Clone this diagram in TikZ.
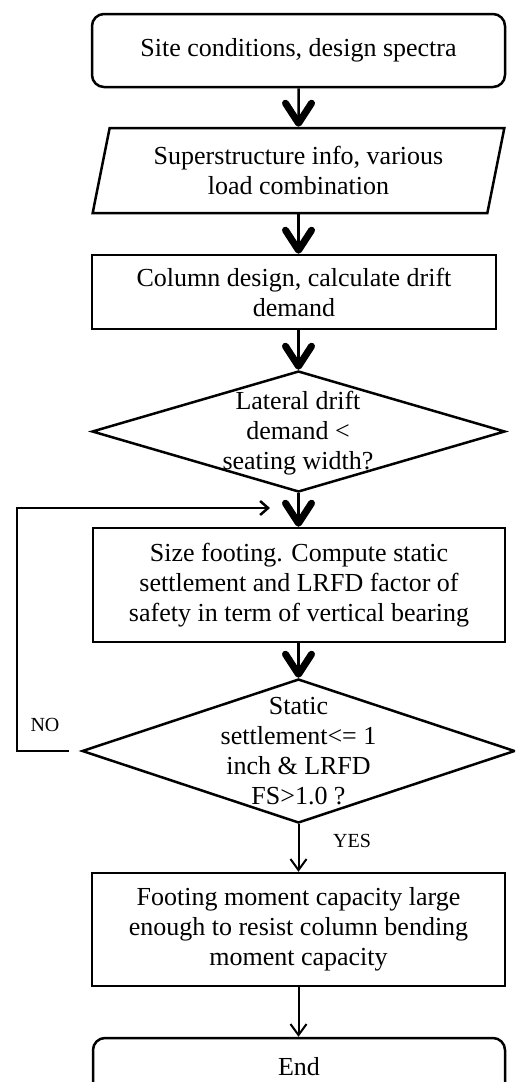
\documentclass[tikz,border=0pt]{standalone}
\usepackage{fontspec}
\setmainfont{Liberation Serif}
\usetikzlibrary{shapes.geometric,arrows.meta}
\begin{document}
\begin{tikzpicture}[x=1pt, y=1pt]
    % Define styles
    \tikzset{
        boxtext/.style={font=\fontsize{26}{30}\selectfont, align=center},
        process/.style={draw, line width=2.5pt, rectangle, inner sep=0pt, boxtext},
        terminal/.style={process, rounded corners=12pt},
        inputbox/.style={draw, line width=2.5pt, trapezium, trapezium left angle=75, trapezium right angle=105, trapezium stretches=true, inner sep=0pt, boxtext},
        decision/.style={draw, line width=2.5pt, diamond, inner sep=0pt},
        bigarrow/.style={line width=2.5pt, -{Straight Barb[length=20pt, width=26pt, line width=7pt, round]}},
        thinarrow/.style={line width=2pt, -{Straight Barb[length=11pt, width=16pt]}},
        looparrow/.style={line width=2.5pt, -{Straight Barb[length=8pt, width=14pt]}},
        answer/.style={font=\fontsize{20}{24}\selectfont}
    }
    \clip (0,0) rectangle (515,-1082);

    % Boxes
    \node[terminal, minimum width=413pt, minimum height=73pt] (site) at (298.5,-50.5) {Site conditions, design spectra};
    \node[inputbox, minimum width=413pt, minimum height=85pt] (info) at (298.5,-170.5) {Superstructure info, various\\load combination};
    \node[process, minimum width=404pt, minimum height=74pt] (column) at (294,-292) {Column design, calculate drift\\demand};
    \node[decision, minimum width=413pt, minimum height=121pt] (lateral) at (298.5,-431.5) {};
    \node[boxtext] (lateraltext) at (298,-433) {Lateral drift\\demand <\\seating width?};
    \node[process, minimum width=412pt, minimum height=114pt] (size) at (299,-585) {Size footing. Compute static\\settlement and LRFD factor of\\safety in term of vertical bearing};
    \node[decision, minimum width=433pt, minimum height=144pt] (static) at (298.5,-751) {};
    \node[boxtext] (statictext) at (298.5,-751) {Static\\settlement<= 1\\inch \& LRFD\\FS>1.0 ?};
    \node[process, minimum width=413pt, minimum height=113pt] (moment) at (298.5,-929.5) {Footing moment capacity large\\enough to resist column bending\\moment capacity};
    \node[terminal, minimum width=412pt, minimum height=58pt] (end) at (299,-1067) {End};

    % Connectors
    \draw[bigarrow] (site.south) -- (info.north);
    \draw[bigarrow] (info.south) -- (info.south |- column.north);
    \draw[bigarrow] (lateral.north |- column.south) -- (lateral.north);
    \draw[bigarrow] (lateral.south) -- (lateral.south |- size.north);
    \draw[bigarrow] (static.north |- size.south) -- (static.north);
    \draw[thinarrow] (static.south) -- (static.south |- moment.north);
    \draw[thinarrow] (moment.south) -- (moment.south |- end.north);

    % Loop back
    \coordinate (loopend) at (270,-508);
    \draw[looparrow, shorten <=12pt] (static.west) -- ++(-64,0) |- (loopend);
    \node[answer] (no) at (45,-725) {NO};
    \node[answer] (yes) at (352,-841) {YES};
\end{tikzpicture}
\end{document}
